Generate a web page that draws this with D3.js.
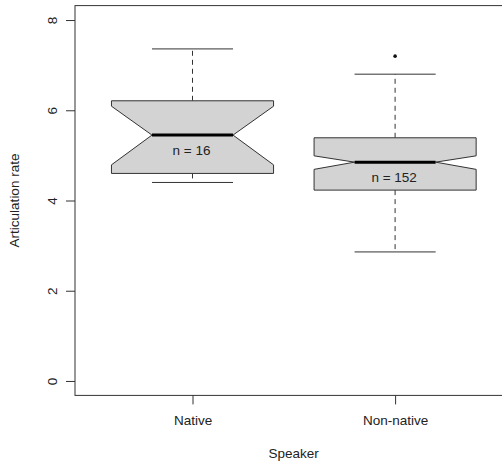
<!DOCTYPE html>
<html>
<head>
<meta charset="utf-8">
<script src="https://cdn.jsdelivr.net/npm/d3@7"></script>
<style>
  body { margin: 0; background: #fff; }
  svg { display: block; font-family: "Liberation Sans", Arial, sans-serif; }
</style>
</head>
<body>
<div id="chart"></div>
<script>
// box statistics
const groups = ["Native", "Non-native"];
const counts = [16, 152];
const whiskerLow = [4.40, 2.86];
const lowerHinge = [4.60, 4.23];
const medians = [5.45, 4.85];
const upperHinge = [6.21, 5.39];
const whiskerHigh = [7.36, 6.80];
const notchLow = [4.79, 4.69];
const notchHigh = [6.09, 4.99];
const outliers = [[], [7.20]];
const yTicks = [0, 2, 4, 6, 8];

const width = 502;
const height = 461;
const plot = { left: 75, top: 5.6, bottom: 395.4 };
const fontSize = 13.5;

const svg = d3.select("#chart")
  .append("svg")
  .attr("width", width)
  .attr("height", height);

const x = d3.scaleLinear()
  .domain([0.42, 2.58])
  .range([plot.left, plot.left + 2.16 * 202.6]);

const y = d3.scaleLinear()
  .domain([-0.32, 8.32])
  .range([plot.bottom, plot.top]);

const boxHalf = 0.4;
const stapleHalf = 0.2;
const ink = "#333";

const boxes = groups.map((g, i) => ({
  name: g,
  pos: i + 1,
  n: counts[i],
  wlo: whiskerLow[i],
  q1: lowerHinge[i],
  med: medians[i],
  q3: upperHinge[i],
  whi: whiskerHigh[i],
  nlo: notchLow[i],
  nhi: notchHigh[i],
  out: outliers[i]
}));

const g = svg.selectAll(".box")
  .data(boxes)
  .enter().append("g")
  .attr("class", "box");

// whiskers (dashed)
g.append("line")
  .attr("x1", d => x(d.pos)).attr("x2", d => x(d.pos))
  .attr("y1", d => y(d.q3)).attr("y2", d => y(d.whi))
  .attr("stroke", ink).attr("stroke-dasharray", "5,4");
g.append("line")
  .attr("x1", d => x(d.pos)).attr("x2", d => x(d.pos))
  .attr("y1", d => y(d.q1)).attr("y2", d => y(d.wlo))
  .attr("stroke", ink).attr("stroke-dasharray", "5,4");

// staples
g.append("line")
  .attr("x1", d => x(d.pos - stapleHalf)).attr("x2", d => x(d.pos + stapleHalf))
  .attr("y1", d => y(d.whi)).attr("y2", d => y(d.whi))
  .attr("stroke", ink);
g.append("line")
  .attr("x1", d => x(d.pos - stapleHalf)).attr("x2", d => x(d.pos + stapleHalf))
  .attr("y1", d => y(d.wlo)).attr("y2", d => y(d.wlo))
  .attr("stroke", ink);

// notched box
g.append("path")
  .attr("d", d => {
    const l = x(d.pos - boxHalf), r = x(d.pos + boxHalf);
    const li = x(d.pos - boxHalf / 2), ri = x(d.pos + boxHalf / 2);
    return d3.line()([
      [l, y(d.q1)], [l, y(d.nlo)], [li, y(d.med)], [l, y(d.nhi)], [l, y(d.q3)],
      [r, y(d.q3)], [r, y(d.nhi)], [ri, y(d.med)], [r, y(d.nlo)], [r, y(d.q1)]
    ]) + "Z";
  })
  .attr("fill", "#d3d3d3")
  .attr("stroke", ink)
  .attr("stroke-width", 1);

// median
g.append("line")
  .attr("x1", d => x(d.pos - boxHalf / 2)).attr("x2", d => x(d.pos + boxHalf / 2))
  .attr("y1", d => y(d.med)).attr("y2", d => y(d.med))
  .attr("stroke", "#000").attr("stroke-width", 3);

// outliers
g.selectAll("circle")
  .data(d => d.out.map(v => ({ pos: d.pos, v })))
  .enter().append("circle")
  .attr("cx", d => x(d.pos)).attr("cy", d => y(d.v))
  .attr("r", 1.8).attr("fill", "#111");

// n labels
g.append("text")
  .attr("x", d => x(d.pos) - 1)
  .attr("y", d => y(d.med) + 20)
  .attr("text-anchor", "middle")
  .attr("font-size", fontSize)
  .attr("fill", "#222")
  .text(d => `n = ${d.n}`);

// frame
svg.append("rect")
  .attr("x", plot.left).attr("y", plot.top)
  .attr("width", x.range()[1] - plot.left)
  .attr("height", plot.bottom - plot.top)
  .attr("fill", "none").attr("stroke", ink);

// y axis
const yAxis = svg.append("g")
  .attr("transform", `translate(${plot.left},0)`)
  .call(d3.axisLeft(y).tickValues(yTicks).tickSize(9).tickFormat(d3.format("d")));
yAxis.select(".domain").remove();
yAxis.selectAll(".tick line").attr("stroke", ink);
yAxis.selectAll(".tick text")
  .attr("x", null).attr("dy", null)
  .attr("transform", "translate(-18.5,0) rotate(-90)")
  .attr("text-anchor", "middle")
  .attr("font-family", "Liberation Sans, Arial, sans-serif")
  .attr("font-size", fontSize)
  .attr("fill", "#222");

// x axis
const xAxis = svg.append("g")
  .attr("transform", `translate(0,${plot.bottom})`)
  .call(d3.axisBottom(x).tickValues([1, 2]).tickSize(9).tickFormat(d => groups[d - 1]));
xAxis.select(".domain").remove();
xAxis.selectAll(".tick line").attr("stroke", ink);
xAxis.selectAll(".tick text")
  .attr("y", 29.6).attr("dy", null)
  .attr("font-family", "Liberation Sans, Arial, sans-serif")
  .attr("font-size", fontSize)
  .attr("fill", "#222");

// axis titles
svg.append("text")
  .attr("x", 293.7).attr("y", 457.5)
  .attr("text-anchor", "middle")
  .attr("font-size", fontSize)
  .attr("fill", "#222")
  .text("Speaker");

svg.append("text")
  .attr("transform", `translate(18.5,${(plot.top + plot.bottom) / 2}) rotate(-90)`)
  .attr("text-anchor", "middle")
  .attr("font-size", fontSize)
  .attr("fill", "#222")
  .text("Articulation rate");
</script>
</body>
</html>
